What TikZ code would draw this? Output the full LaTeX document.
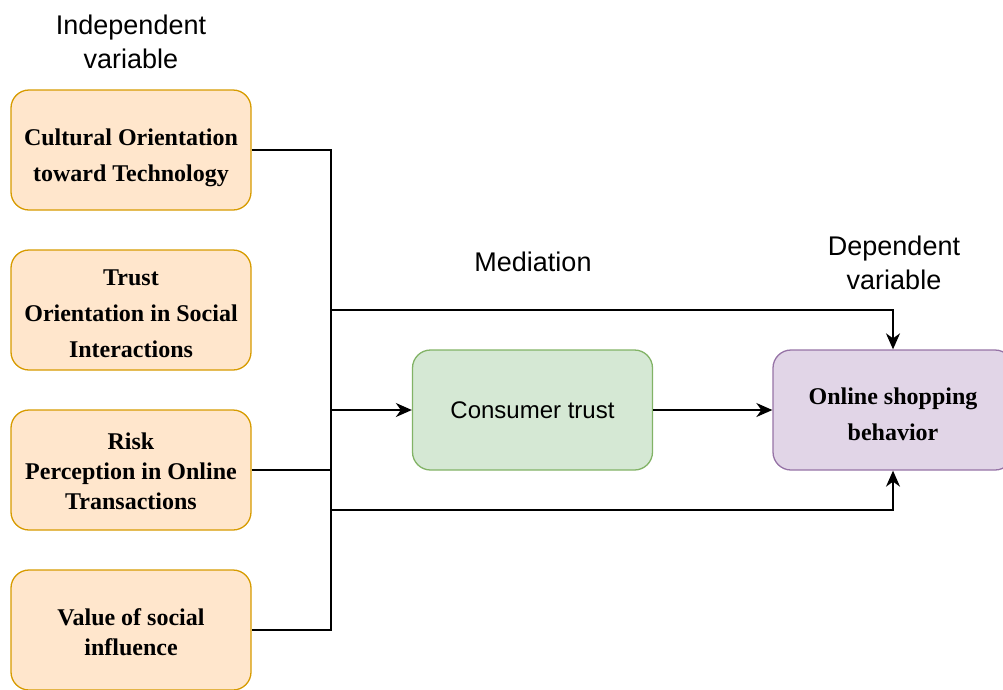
\documentclass[tikz,border=0pt]{standalone}
\usepackage{fontspec}
\setmainfont{Liberation Serif}
\setsansfont{Liberation Sans}
\usetikzlibrary{arrows.meta}

\definecolor{orangefill}{HTML}{FFE6CC}
\definecolor{orangeline}{HTML}{D79B00}
\definecolor{greenfill}{HTML}{D5E8D4}
\definecolor{greenline}{HTML}{82B366}
\definecolor{purplefill}{HTML}{E1D5E7}
\definecolor{purpleline}{HTML}{9673A6}

\tikzset{
  basebox/.style={rectangle, rounded corners=18pt, line width=1.3pt,
    minimum width=240pt, minimum height=120pt, inner sep=0pt, align=center},
  ivbox/.style={basebox, fill=orangefill, draw=orangeline},
  medbox/.style={basebox, fill=greenfill, draw=greenline,
    font=\sffamily\fontsize{24}{30}\selectfont},
  dvbox/.style={basebox, fill=purplefill, draw=purpleline},
  boxtext/.style={align=center, inner sep=0pt,
    font=\rmfamily\bfseries\fontsize{24}{36}\selectfont},
  tighttext/.style={boxtext, font=\rmfamily\bfseries\fontsize{24}{30}\selectfont},
  caption/.style={align=center, inner sep=0pt,
    font=\sffamily\fontsize{27}{34}\selectfont},
  link/.style={line width=1.6pt, draw=black},
  arrowlink/.style={link, -{Stealth[length=16pt, width=14pt, inset=5pt]}}
}

\begin{document}
\begin{tikzpicture}[x=1pt, y=-1pt]
  \useasboundingbox (0,0) rectangle (1003,689);
  \clip (0,0) rectangle (1003,689);

  % headings
  \node[caption] (hiv) at (131,42) {Independent\\variable};
  \node[caption] (hmed) at (533,262) {Mediation};
  \node[caption] (hdv) at (894,263) {Dependent\\variable};

  % independent variables
  \node[ivbox] (cot) at (131,150) {};
  \node[ivbox] (tos) at (131,310) {};
  \node[ivbox] (rpo) at (131,470) {};
  \node[ivbox] (vsi) at (131,630) {};
  \node[boxtext, yshift=-7.5pt] (cott) at (cot) {Cultural Orientation\\toward Technology};
  \node[boxtext, yshift=-4pt] (tost) at (tos) {Trust\\Orientation in Social\\Interactions};
  \node[tighttext, yshift=-1.5pt] (rpot) at (rpo) {Risk\\Perception in Online\\Transactions};
  \node[tighttext, yshift=-2.5pt] (vsit) at (vsi) {Value of social\\influence};

  % mediator and outcome
  \node[medbox] (ct) at (532.5,410) {Consumer trust};
  \node[dvbox] (osb) at (893,410) {};
  \node[boxtext, yshift=-4.5pt] (osbt) at (osb) {Online shopping\\behavior};

  % junction points on the collecting bus
  \coordinate (jtop) at (331,150);
  \coordinate (jup) at (331,310);
  \coordinate (jmid) at (331,410);
  \coordinate (jrisk) at (331,470);
  \coordinate (jlow) at (331,510);
  \coordinate (jbot) at (331,630);

  % bus joining the independent variables
  \draw[link] (cot.east) -- (jtop) -- (jbot) -- (vsi.east);
  \draw[link] (rpo.east) -- (jrisk);

  % paths to mediator and outcome
  \draw[arrowlink] (jup) -| (osb.north);
  \draw[arrowlink] (jmid) -- (ct.west);
  \draw[arrowlink] (jlow) -| (osb.south);
  \draw[arrowlink] (ct.east) -- (osb.west);
\end{tikzpicture}
\end{document}
